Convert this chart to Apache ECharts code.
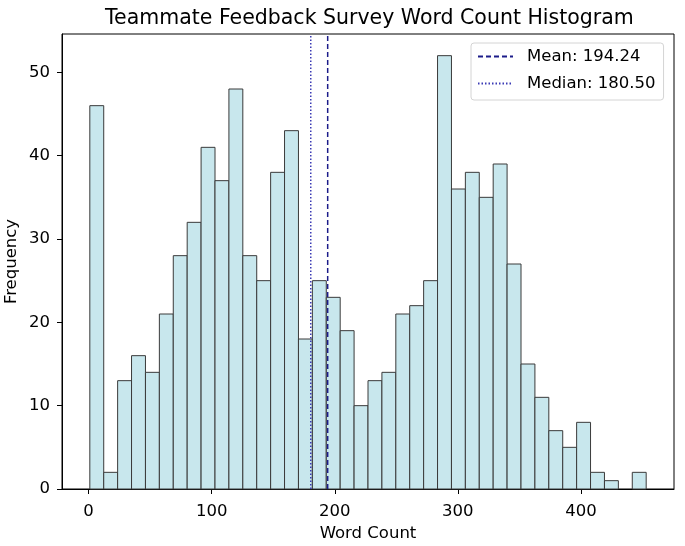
<!DOCTYPE html>
<html>
<head>
<meta charset="utf-8">
<script src="https://cdn.jsdelivr.net/npm/echarts@6/dist/echarts.min.js"></script>
<style>
html,body{margin:0;padding:0;background:#fff;}
#chart{width:685px;height:546px;}
</style>
</head>
<body>
<div id="chart"></div>
<script>
// Histogram counts (40 bins)
var counts = [46, 2, 13, 16, 14, 21, 28, 32, 41, 37,
              48, 28, 25, 38, 43, 18, 25, 23, 19, 10,
              13, 14, 21, 22, 25, 52, 36, 38, 35, 39,
              27, 15, 11, 7, 5, 8, 2, 1, 0, 2];
var binStart = 1;
var binWidth = 11.3;
var meanValue = 194.24;
var medianValue = 180.50;
var xTicks = [0, 100, 200, 300, 400];
var xMin = -21.6, xMax = 475.6;
var yMax = 54.6;

var bins = counts.map(function (c, i) {
  return [binStart + i * binWidth, binStart + (i + 1) * binWidth, c];
});

var FONT = 'DejaVu Sans';
var chart = echarts.init(document.getElementById('chart'));
chart.setOption({
  animation: false,
  backgroundColor: '#fff',
  textStyle: { fontFamily: FONT },
  title: {
    text: 'Teammate Feedback Survey Word Count Histogram',
    left: 100, top: 3,
    textStyle: { fontFamily: FONT, fontSize: 20.5, fontWeight: 'normal', color: '#000' }
  },
  legend: {
    orient: 'vertical',
    left: 471, top: 43,
    padding: [5, 8, 8, 6],
    itemGap: 10,
    itemWidth: 35, itemHeight: 14,
    backgroundColor: '#fff',
    borderColor: '#d4d4d4', borderWidth: 1, borderRadius: 3,
    itemStyle: { opacity: 0 },
    textStyle: { fontFamily: FONT, fontSize: 16.5, color: '#000', lineHeight: 16, padding: [0, 0, 0, 9] },
    data: ['Mean: 194.24', 'Median: 180.50']
  },
  grid: {
    left: 62, right: 11, top: 34, bottom: 57,
    outerBoundsMode: 'none', containLabel: false,
    show: true, borderColor: '#000', borderWidth: 1, backgroundColor: 'transparent'
  },
  xAxis: {
    type: 'value', min: xMin, max: xMax,
    name: 'Word Count', nameLocation: 'middle', nameGap: 34,
    nameTextStyle: { fontFamily: FONT, fontSize: 16.5, color: '#000' },
    splitLine: { show: false },
    axisLine: { show: true, onZero: false, lineStyle: { color: '#000', width: 1 } },
    axisTick: { show: true, inside: false, length: 5, customValues: xTicks, lineStyle: { color: '#000' } },
    axisLabel: { customValues: xTicks, fontFamily: FONT, fontSize: 16.5, color: '#000', margin: 14 }
  },
  yAxis: {
    type: 'value', min: 0, max: yMax, interval: 10,
    name: 'Frequency', nameLocation: 'middle', nameGap: 42, nameRotate: 90,
    nameMoveOverlap: false,
    nameTextStyle: { fontFamily: FONT, fontSize: 16.5, color: '#000' },
    splitLine: { show: false },
    axisLine: { show: true, onZero: false, lineStyle: { color: '#000', width: 1 } },
    axisTick: { show: true, inside: false, length: 5, lineStyle: { color: '#000' } },
    axisLabel: { fontFamily: FONT, fontSize: 16.5, color: '#000', margin: 12, showMaxLabel: false }
  },
  series: [
    {
      type: 'custom',
      name: 'hist',
      data: bins,
      encode: { x: [0, 1], y: 2 },
      renderItem: function (params, api) {
        var x0 = api.value(0), x1 = api.value(1), c = api.value(2);
        if (!c) return;
        var p0 = api.coord([x0, c]);
        var p1 = api.coord([x1, 0]);
        return {
          type: 'rect',
          shape: { x: p0[0], y: p0[1], width: p1[0] - p0[0], height: p1[1] - p0[1] },
          style: { fill: '#c8e7ed', stroke: '#3a3a3a', lineWidth: 1 }
        };
      },
      z: 2
    },
    {
      type: 'line', name: 'Mean: 194.24',
      data: [[meanValue, 0], [meanValue, yMax]],
      symbol: 'none', showSymbol: false,
      lineStyle: { color: '#1c1c8a', width: 1.5, type: [5, 3] },
      itemStyle: { color: '#1c1c8a' },
      z: 5
    },
    {
      type: 'line', name: 'Median: 180.50',
      data: [[medianValue, 0], [medianValue, yMax]],
      symbol: 'none', showSymbol: false,
      lineStyle: { color: '#3b3bb5', width: 1.5, type: [1.5, 2] },
      itemStyle: { color: '#3b3bb5' },
      z: 5
    }
  ]
});
</script>
</body>
</html>
